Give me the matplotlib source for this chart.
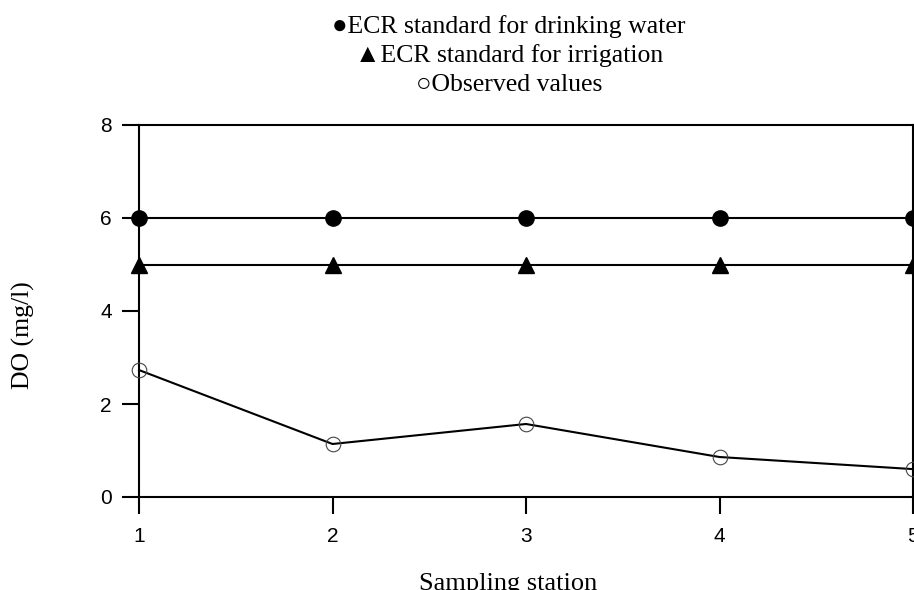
import matplotlib

matplotlib.use("Agg")
import matplotlib.pyplot as plt

stations = [1, 2, 3, 4, 5]
drinking_std = [6, 6, 6, 6, 6]
irrigation_std = [5, 5, 5, 5, 5]
observed = [2.73, 1.14, 1.57, 0.86, 0.60]

legend_lines = [
    "\u25cfECR standard for drinking water",
    "\u25b2ECR standard for irrigation",
    "\u25cbObserved values",
]

serif = ["Liberation Serif", "DejaVu Serif"]

fig = plt.figure(figsize=(9.14, 5.9), dpi=100)
ax = fig.add_axes([139 / 914, 93 / 590, 774 / 914, 372 / 590])

ax.plot(stations, drinking_std, color="black", lw=1.5, marker="o", ms=11,
        clip_on=False, zorder=3)
ax.plot(stations, irrigation_std, color="black", lw=1.5, marker="^", ms=12,
        clip_on=False, zorder=3)
ax.plot(stations, observed, color="black", lw=1.5, marker="o", ms=10.5,
        mfc="none", mec="#444444", mew=0.8, clip_on=False, zorder=3)

ax.set_xlim(1, 5)
ax.set_ylim(0, 8)
ax.set_xticks(stations)
ax.set_yticks([0, 2, 4, 6, 8])
ax.tick_params(direction="out", length=12.5, width=1.5, labelsize=15)
ax.tick_params(axis="x", pad=9)
ax.tick_params(axis="y", pad=7)
for lab in ax.get_xticklabels() + ax.get_yticklabels():
    lab.set_family(["Liberation Sans", "DejaVu Sans"])
for s in ax.spines.values():
    s.set_linewidth(1.5)

# axis titles sit off-centre in the original
fig.text(508 / 914, 0.0, "Sampling station", family=serif, fontsize=19,
         ha="center", va="baseline")
fig.text(23 / 914, 1 - 335 / 590, "DO (mg/l)", family=serif, fontsize=18.5,
         rotation=90, ha="center", va="center")

for i, t in enumerate(legend_lines):
    fig.text(509 / 914, 1 - (33 + 29 * i) / 590, t, ha="center", va="baseline",
             fontsize=18.5, family=["Liberation Serif", "DejaVu Sans"])

plt.savefig("out.png", dpi=100)
